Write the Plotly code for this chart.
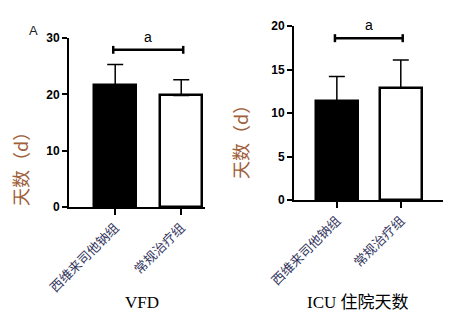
import plotly.graph_objects as go

groups = ["西维来司他钠组", "常规治疗组"]
vfd_mean = [21.7, 19.8]
vfd_sd = [3.6, 2.8]
icu_mean = [11.4, 12.9]
icu_sd = [2.8, 3.2]
panel_titles = ["VFD", "ICU 住院天数"]
y_title = "天数（d）"
vfd_ticks = [0, 10, 20, 30]
icu_ticks = [0, 5, 10, 15, 20]
sig_label = "a"
bar_fill = ["black", "white"]

W, H = 455, 326
def px(x):
    return x / W
def py(y):
    return 1 - y / H

fig = go.Figure()
pos = [0, 1]
fig.add_trace(go.Bar(
    x=pos, y=vfd_mean, width=0.64,
    marker=dict(color=bar_fill, line=dict(color="black", width=2.5)),
    error_y=dict(type="data", array=vfd_sd, arrayminus=[0, 0], symmetric=False,
                 color="black", thickness=1.5, width=8),
    xaxis="x", yaxis="y", showlegend=False))
fig.add_trace(go.Bar(
    x=pos, y=icu_mean, width=0.66,
    marker=dict(color=bar_fill, line=dict(color="black", width=2.5)),
    error_y=dict(type="data", array=icu_sd, arrayminus=[0, 0], symmetric=False,
                 color="black", thickness=1.5, width=8),
    xaxis="x2", yaxis="y2", showlegend=False))

tickfont = dict(family="Arial, Liberation Sans", size=12, color="black", weight="bold")
catfont = dict(family="Noto Sans CJK SC", size=13, color="#34365e")
common_x = dict(tickmode="array", tickvals=pos, ticktext=groups, tickangle=-45,
                showline=True, linecolor="black", linewidth=2, ticks="outside",
                ticklen=6, tickwidth=2, tickcolor="black", tickfont=catfont,
                showgrid=False, zeroline=False, fixedrange=True, automargin=False)
common_y = dict(showline=True, linecolor="black", linewidth=2, ticks="outside",
                ticklen=5, tickwidth=2, tickcolor="black", tickfont=tickfont,
                showgrid=False, zeroline=False, tickmode="array", automargin=False)

fig.update_layout(
    width=W, height=H, margin=dict(l=0, r=0, t=0, b=0, autoexpand=False),
    paper_bgcolor="white", plot_bgcolor="white", bargap=0,
    xaxis=dict(domain=[px(69), px(205)], range=[-0.70, 1.36], anchor="y", **common_x),
    yaxis=dict(domain=[py(207), py(38)], range=[0, 30], anchor="x",
               tickvals=vfd_ticks, **common_y),
    xaxis2=dict(domain=[px(294), px(443)], range=[-0.67, 1.66], anchor="y2", **common_x),
    yaxis2=dict(domain=[py(200), py(26)], range=[0, 20], anchor="x2",
                tickvals=icu_ticks, **common_y),
)

# significance brackets
def bracket(xr, yr, yv, cap):
    fig.add_shape(type="line", xref=xr, yref=yr, x0=-0.03, x1=1.03, y0=yv, y1=yv,
                  line=dict(color="black", width=2.5))
    for xv in (-0.03, 1.03):
        fig.add_shape(type="line", xref=xr, yref=yr, x0=xv, x1=xv, y0=yv - cap, y1=yv + cap,
                      line=dict(color="black", width=2.5))
    fig.add_annotation(xref=xr, yref=yr, x=0.5, y=yv, text=sig_label, showarrow=False,
                       yanchor="bottom", yshift=3,
                       font=dict(family="Arial, Liberation Sans", size=14, color="black"))

bracket("x", "y", 27.9, 0.7)
bracket("x2", "y2", 18.6, 0.46)

# y titles
for xx, yy in ((20, 165), (240, 138)):
    fig.add_annotation(xref="paper", yref="paper", x=px(xx), y=py(yy), text=y_title,
                       textangle=-90, showarrow=False, xanchor="center", yanchor="middle",
                       font=dict(family="Noto Sans CJK SC", size=18, color="#a0603a"))

# panel titles
for xx, t in ((142, panel_titles[0]), (358, panel_titles[1])):
    fig.add_annotation(xref="paper", yref="paper", x=px(xx), y=py(302), text=t,
                       showarrow=False, xanchor="center", yanchor="middle",
                       font=dict(family="Liberation Serif, Noto Sans CJK SC", size=17, color="black"))

fig.add_annotation(xref="paper", yref="paper", x=px(33), y=py(30), text="A", showarrow=False,
                   xanchor="center", yanchor="middle",
                   font=dict(family="Arial, Liberation Sans", size=13, color="#222"))

fig.write_html("out.html")
